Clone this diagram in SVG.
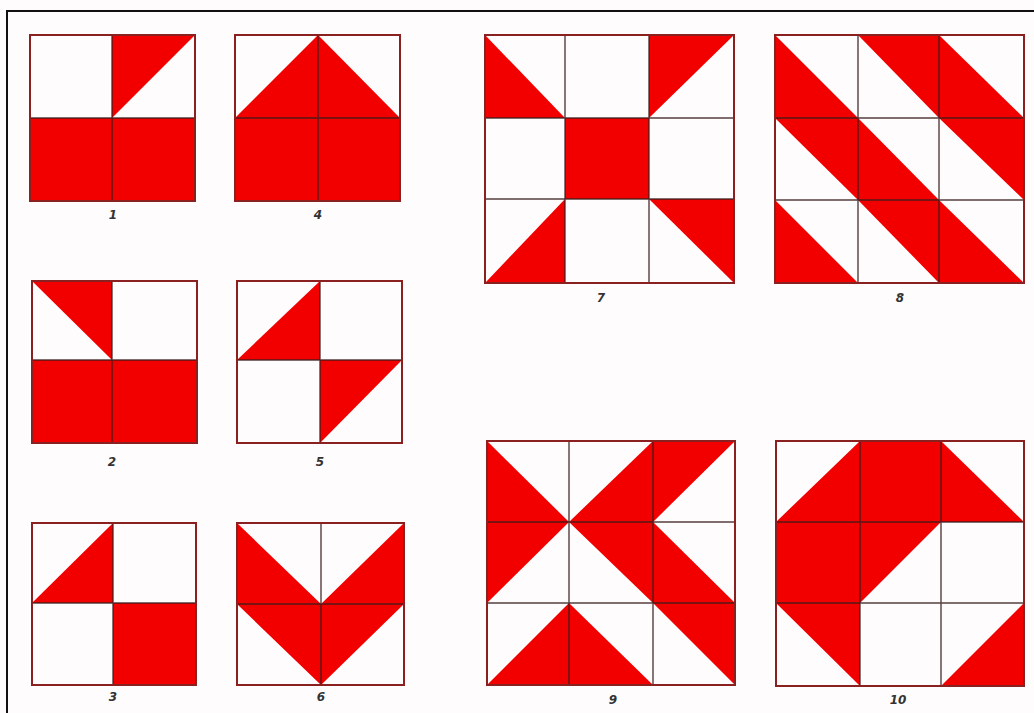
<svg xmlns="http://www.w3.org/2000/svg" width="1034" height="713" viewBox="0 0 1034 713">
<style>
.bg{fill:#fefcfc}
.frame{fill:none;stroke:#111;stroke-width:2}
.r{fill:#f20000}
.box{fill:none;stroke:#8a2020;stroke-width:2}
.g{stroke:#3a1c1c;stroke-width:1.4;stroke-opacity:0.85;fill:none}
.lbl{font-family:"DejaVu Sans",sans-serif;font-style:italic;font-weight:bold;font-size:12px;fill:#333;text-anchor:middle}
</style>
<rect class="bg" x="0" y="0" width="1034" height="713"/>
<rect class="frame" x="7" y="11" width="1040" height="712"/>

<g id="panel1">
<polygon class="r" points="112,35 195,35 112,118"/>
<rect class="r" x="30" y="118" width="165" height="83"/>
<path class="g" d="M112,35V201M30,118H195"/>
<rect class="box" x="30" y="35" width="165" height="166"/>
<text class="lbl" x="113" y="219">1</text>
</g>

<g id="panel4">
<polygon class="r" points="235,118 318,35 400,118"/>
<rect class="r" x="235" y="118" width="165" height="83"/>
<path class="g" d="M318,35V201M235,118H400"/>
<rect class="box" x="235" y="35" width="165" height="166"/>
<text class="lbl" x="318" y="219">4</text>
</g>

<g id="panel2">
<polygon class="r" points="32,281 112,281 112,360"/>
<rect class="r" x="32" y="360" width="165" height="83"/>
<path class="g" d="M112,281V443M32,360H197"/>
<rect class="box" x="32" y="281" width="165" height="162"/>
<text class="lbl" x="112" y="466">2</text>
</g>

<g id="panel5">
<polygon class="r" points="320,281 320,360 237,360"/>
<polygon class="r" points="320,360 402,360 320,443"/>
<path class="g" d="M320,281V443M237,360H402"/>
<rect class="box" x="237" y="281" width="165" height="162"/>
<text class="lbl" x="320" y="466">5</text>
</g>

<g id="panel3">
<polygon class="r" points="113,523 113,603 32,603"/>
<rect class="r" x="113" y="603" width="83" height="82"/>
<path class="g" d="M113,523V685M32,603H196"/>
<rect class="box" x="32" y="523" width="164" height="162"/>
<text class="lbl" x="113" y="701">3</text>
</g>

<g id="panel6">
<polygon class="r" points="237,523 237,604 321,685 404,604 404,523 321,604"/>
<path class="g" d="M321,523V685M237,604H404"/>
<rect class="box" x="237" y="523" width="167" height="162"/>
<text class="lbl" x="321" y="701">6</text>
</g>

<g id="panel7">
<polygon class="r" points="485,35 485,118 565,118"/>
<polygon class="r" points="649,35 734,35 649,118"/>
<rect class="r" x="565" y="118" width="84" height="81"/>
<polygon class="r" points="565,199 565,283 485,283"/>
<polygon class="r" points="649,199 734,199 734,283"/>
<path class="g" d="M565,35V283M649,35V283M485,118H734M485,199H734"/>
<rect class="box" x="485" y="35" width="249" height="248"/>
<text class="lbl" x="601" y="302">7</text>
</g>

<g id="panel8">
<polygon class="r" points="775,35 775,118 858,118"/>
<polygon class="r" points="775,118 858,118 858,200"/>
<polygon class="r" points="858,118 858,200 939,200"/>
<polygon class="r" points="858,200 939,200 939,283"/>
<polygon class="r" points="939,200 939,283 1024,283"/>
<polygon class="r" points="858,35 939,35 939,118"/>
<polygon class="r" points="939,35 939,118 1024,118"/>
<polygon class="r" points="939,118 1024,118 1024,200"/>
<polygon class="r" points="775,200 775,283 858,283"/>
<path class="g" d="M858,35V283M939,35V283M775,118H1024M775,200H1024"/>
<rect class="box" x="775" y="35" width="249" height="248"/>
<text class="lbl" x="900" y="302">8</text>
</g>

<g id="panel9">
<polygon class="r" points="487,441 487,522 569,522"/>
<polygon class="r" points="569,522 653,441 653,522"/>
<polygon class="r" points="653,441 735,441 653,522"/>
<polygon class="r" points="487,522 569,522 487,603"/>
<polygon class="r" points="569,522 653,522 653,603"/>
<polygon class="r" points="653,522 653,603 735,603"/>
<polygon class="r" points="487,685 569,603 569,685"/>
<polygon class="r" points="569,603 569,685 653,685"/>
<polygon class="r" points="653,603 735,603 735,685"/>
<path class="g" d="M569,441V685M653,441V685M487,522H735M487,603H735"/>
<rect class="box" x="487" y="441" width="248" height="244"/>
<text class="lbl" x="613" y="704">9</text>
</g>

<g id="panel10">
<polygon class="r" points="776,522 860,441 860,522"/>
<rect class="r" x="860" y="441" width="81" height="81"/>
<polygon class="r" points="941,441 941,522 1024,522"/>
<rect class="r" x="776" y="522" width="84" height="81"/>
<polygon class="r" points="860,522 941,522 860,603"/>
<polygon class="r" points="776,603 860,603 860,686"/>
<polygon class="r" points="941,686 1024,603 1024,686"/>
<path class="g" d="M860,441V686M941,441V686M776,522H1024M776,603H1024"/>
<rect class="box" x="776" y="441" width="248" height="245"/>
<text class="lbl" x="898" y="704">10</text>
</g>
</svg>
